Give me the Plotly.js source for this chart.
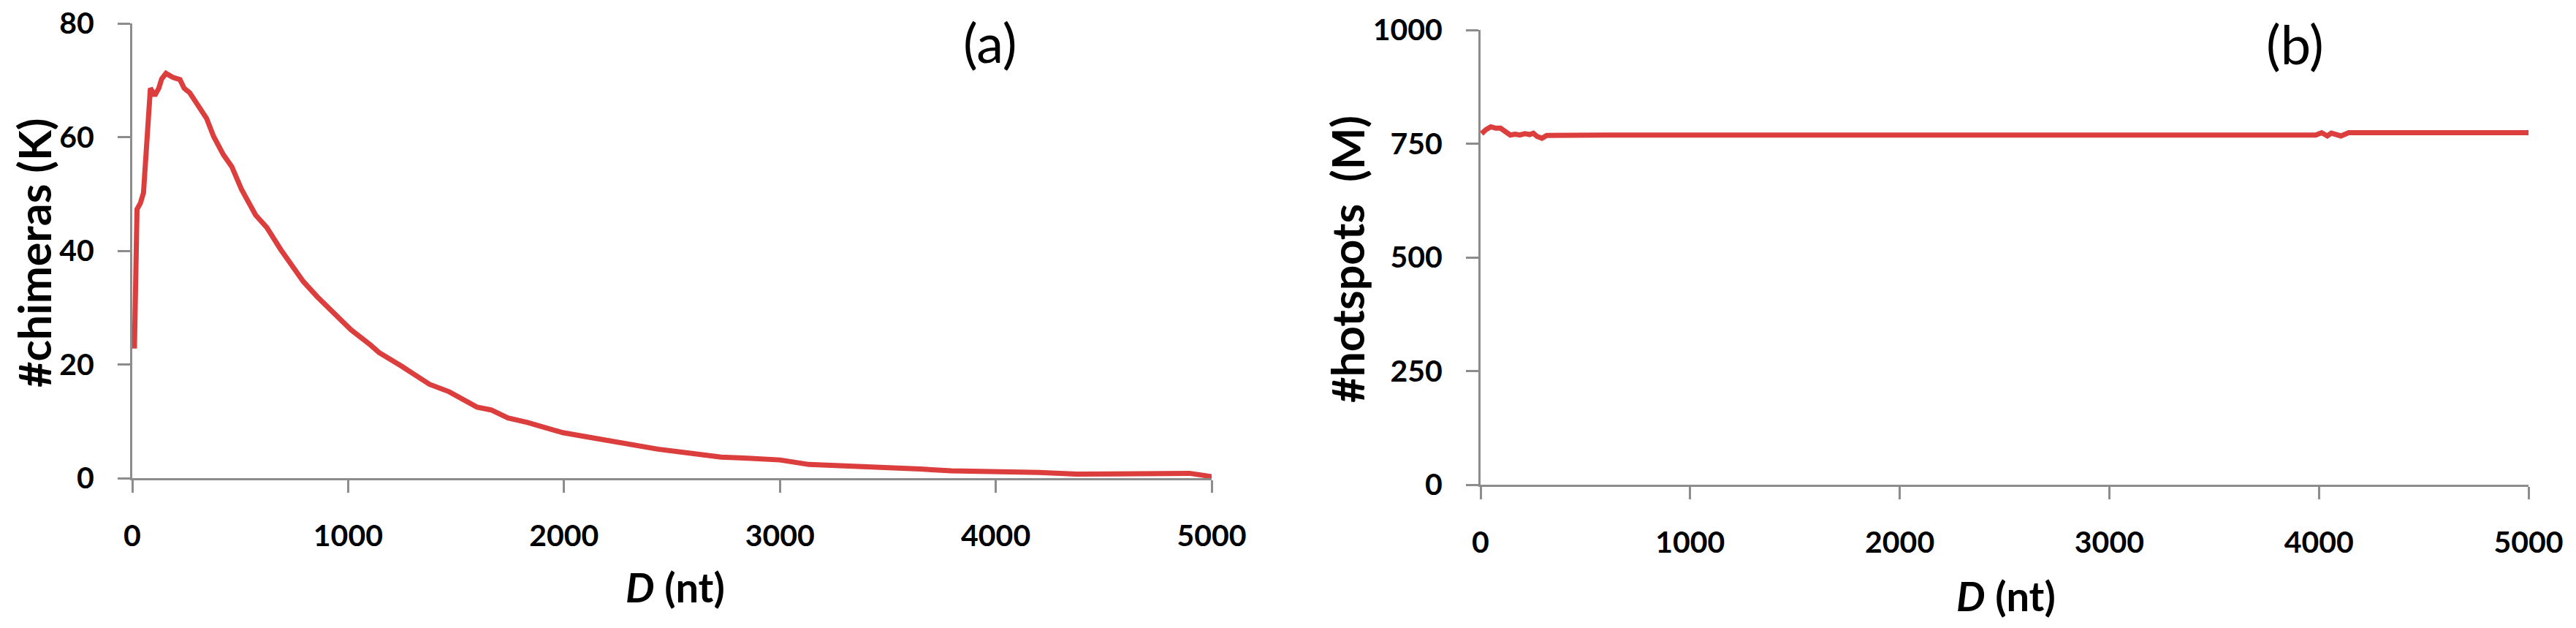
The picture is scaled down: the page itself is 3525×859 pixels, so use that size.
<!DOCTYPE html>
<html>
<head>
<meta charset="utf-8">
<script src="https://cdn.plot.ly/plotly-3.0.1.min.js"></script>
<style>
  html, body { margin: 0; padding: 0; background: #fff; }
  #chart { width: 3525px; height: 859px; }
</style>
</head>
<body>
<div id="chart"></div>
<script>
// ─── data ───────────────────────────────────────────────────
// (a) number of chimeras (thousands) vs D
var chimD = [10, 22, 38, 52, 84, 104, 123, 136, 156, 188, 221, 240, 266, 299, 344, 377,
  422, 461, 506, 571, 623, 688, 740, 792, 857, 935, 1013, 1104, 1143, 1247, 1299, 1377,
  1468, 1532, 1597, 1662, 1740, 1831, 1909, 1994, 2100, 2200, 2300, 2435, 2580, 2727,
  2850, 3000, 3135, 3300, 3500, 3650, 3794, 4000, 4200, 4375, 4600, 4800, 4897, 4960, 5010];
var chimK = [22.8, 47.3, 48.4, 50.2, 68.6, 67.3, 68.6, 70.2, 71.2, 70.5, 70.1, 68.6, 67.8,
  66.0, 63.3, 60.1, 56.9, 54.8, 50.8, 46.3, 44.1, 40.2, 37.5, 34.6, 31.9, 29.0, 26.1,
  23.4, 22.1, 19.7, 18.4, 16.5, 15.2, 13.8, 12.5, 12.0, 10.6, 9.8, 9.0, 8.0, 7.3, 6.6,
  5.9, 5.1, 4.4, 3.7, 3.5, 3.2, 2.4, 2.2, 1.9, 1.6, 1.3, 1.2, 1.0, 0.7, 0.7, 0.7, 0.85,
  0.5, 0.2];

// (b) number of hotspots (millions) vs D
var hotD = [5, 26, 49, 72, 95, 118, 142, 165, 188, 211, 234, 252, 269, 293, 316, 600,
  1000, 2000, 3000, 3985, 4013, 4040, 4059, 4105, 4142, 4500, 5000];
var hotM = [772, 781, 787, 784, 784, 776, 769, 771, 769, 772, 770, 773, 766, 762, 768, 769,
  769, 769, 769, 769, 774, 767, 773, 767, 774, 774, 774];

var yTicksA = [0, 20, 40, 60, 80];
var yTicksB = [0, 250, 500, 750, 1000];
var xTicks = [0, 1000, 2000, 3000, 4000, 5000];

// ─── styling ────────────────────────────────────────────────
var FONT = 'Lato, "Open Sans", sans-serif';
var RED = '#dc3d3d';
var AXIS = '#8c8c8c';
var W = 3525, H = 859;

function px(x) { return x / W; }
function py(y) { return (H - y) / H; }

function axis(extra) {
  var base = {
    showgrid: false,
    zeroline: false,
    showline: true,
    linecolor: AXIS,
    linewidth: 3,
    ticks: 'outside',
    ticklen: 17,
    tickwidth: 3,
    tickcolor: AXIS,
    tickfont: { family: FONT, size: 41, color: '#000', weight: 'bold' },
    ticklabelstandoff: 24,
    fixedrange: true,
  };
  for (var k in extra) base[k] = extra[k];
  return base;
}

var traces = [
  {
    type: 'scatter', mode: 'lines', x: chimD, y: chimK, xaxis: 'x', yaxis: 'y',
    line: { color: RED, width: 7 }, hoverinfo: 'skip',
  },
  {
    type: 'scatter', mode: 'lines', x: hotD, y: hotM, xaxis: 'x2', yaxis: 'y2',
    line: { color: RED, width: 7 }, hoverinfo: 'skip',
  },
];

function label(text, x, y, size, bold, angle) {
  return {
    text: text, xref: 'paper', yref: 'paper', x: x, y: y,
    xanchor: 'center', yanchor: 'middle', showarrow: false,
    textangle: angle || 0,
    font: { family: FONT, size: size, color: '#000', weight: bold ? 'bold' : 'normal' },
  };
}

var layout = {
  width: W, height: H,
  margin: { l: 0, r: 0, t: 0, b: 0 },
  paper_bgcolor: '#fff', plot_bgcolor: '#fff',
  showlegend: false,
  xaxis: axis({ domain: [px(181), px(1658)], range: [0, 5000], tickvals: xTicks, anchor: 'y' }),
  yaxis: axis({ domain: [py(654), py(32)], range: [0, 80], tickvals: yTicksA, anchor: 'x' }),
  xaxis2: axis({ domain: [px(2026), px(3460)], range: [0, 5000], tickvals: xTicks, anchor: 'y2' }),
  yaxis2: axis({ domain: [py(663), py(41)], range: [0, 1000], tickvals: yTicksB, anchor: 'x2' }),
  annotations: [
    label('#chimeras (K)', px(46), py(346), 61, true, -90),
    label('#hotspots  (M)', px(1843), py(355), 61, true, -90),
    label('<i>D</i> (nt)', px(924), py(802), 56, true),
    label('<i>D</i> (nt)', px(2745), py(814), 56, true),
    label('(a)', px(1355), py(57), 74, false),
    label('(b)', px(3140), py(59), 74, false),
  ],
};

Plotly.newPlot('chart', traces, layout, { staticPlot: true, displayModeBar: false });
</script>
</body>
</html>
